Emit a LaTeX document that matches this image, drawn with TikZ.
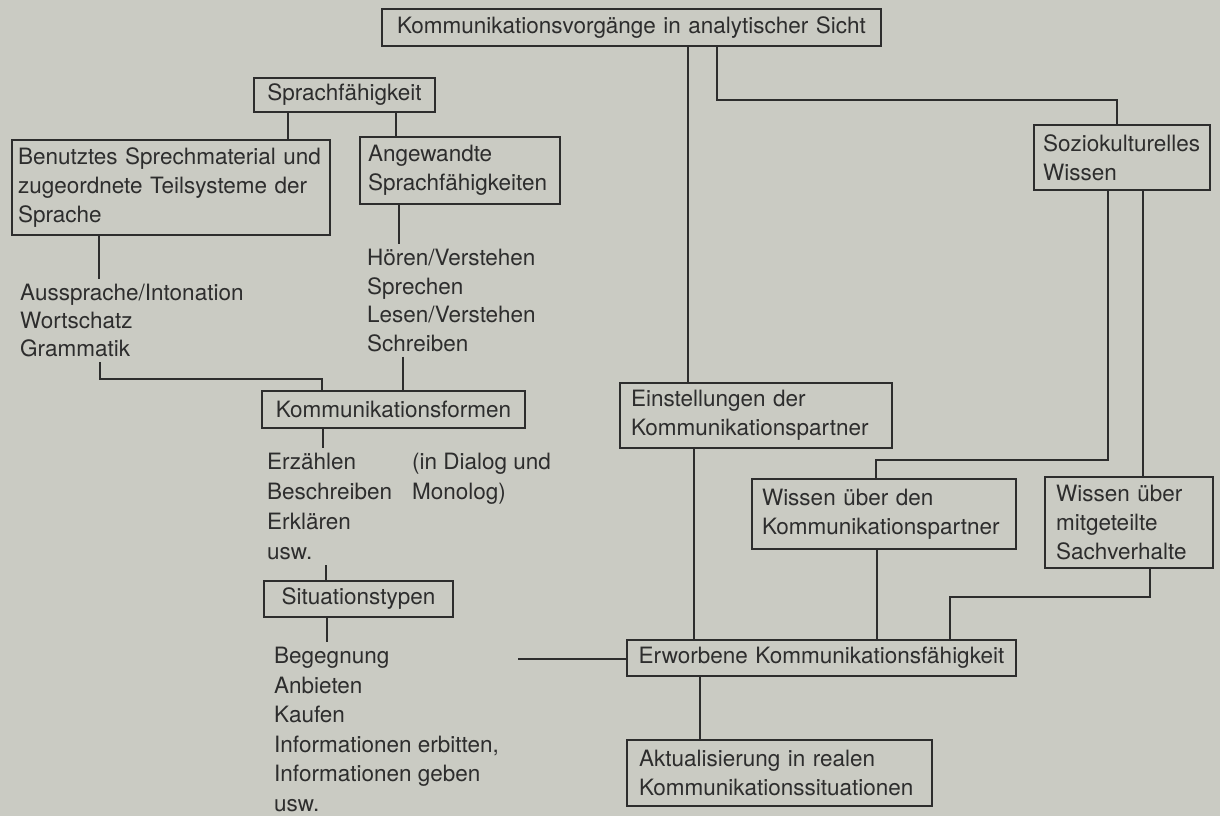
\documentclass[tikz,border=0pt]{standalone}
\usepackage{fontspec}
\setmainfont{TeX Gyre Heros}
\definecolor{paper}{RGB}{202,203,195}
\definecolor{ink}{RGB}{45,45,45}
\tikzset{
  lw/.style={line width=1.7pt},
  box/.style={draw=ink, lw, text=ink, inner ysep=0pt, outer sep=0pt, font=\fontsize{22.5}{29}\selectfont},
  lbl/.style={text=ink, inner xsep=0pt, inner ysep=5pt, align=left, anchor=north west},
  wire/.style={draw=ink, lw},
}
\begin{document}
\begin{tikzpicture}[x=1pt,y=-1pt]
\fill[paper] (0,0) rectangle (1220,816);
\useasboundingbox (0,0) rectangle (1220,816);

% boxes
\node[box, minimum width=499pt, minimum height=37pt, inner xsep=8pt, text width=483pt, align=center] (top) at (631.5,27.5) {Kommunikationsvorgänge in analytischer Sicht};
\node[box, minimum width=181pt, minimum height=34pt, inner xsep=8pt, text width=165pt, align=center] (spr) at (344.5,95) {Sprachfähigkeit};
\node[box, minimum width=318pt, minimum height=95pt, inner xsep=6pt, text width=306pt, align=left] (ben) at (171,187.5) {Benutztes Sprechmaterial und\\zugeordnete Teilsysteme der\\Sprache};
\node[box, minimum width=200pt, minimum height=67pt, inner xsep=8pt, text width=184pt, align=left] (ang) at (460,170.5) {Angewandte\\Sprachfähigkeiten};
\node[box, minimum width=263pt, minimum height=37pt, inner xsep=8pt, text width=247pt, align=center] (komf) at (393.5,409.5) {Kommunikationsformen};
\node[box, minimum width=189pt, minimum height=36pt, inner xsep=8pt, text width=173pt, align=center] (sit) at (358.5,599) {Situationstypen};
\node[box, minimum width=272pt, minimum height=65pt, inner xsep=11pt, text width=250pt, align=left] (einst) at (756,415.5) {Einstellungen der\\Kommunikationspartner};
\node[box, minimum width=176pt, minimum height=65pt, inner xsep=9pt, text width=158pt, align=left] (sozio) at (1122,157.5) {Soziokulturelles\\Wissen};
\node[box, minimum width=264pt, minimum height=70pt, inner xsep=10pt, text width=244pt, align=left] (wub) at (884,514) {Wissen über den\\Kommunikationspartner};
\node[box, minimum width=168pt, minimum height=91pt, inner xsep=11pt, text width=146pt, align=left] (wum) at (1129,522.5) {Wissen über\\mitgeteilte\\Sachverhalte};
\node[box, minimum width=389pt, minimum height=36pt, inner xsep=8pt, text width=373pt, align=center] (erw) at (821.5,658) {Erworbene Kommunikationsfähigkeit};
\node[box, minimum width=305pt, minimum height=66pt, inner xsep=12pt, text width=281pt, align=left] (akt) at (779.5,773) {Aktualisierung in realen\\Kommunikationssituationen};

% plain text lists
\node[lbl, font=\fontsize{22.5}{28}\selectfont] (aus) at (20,279) {Aussprache/Intonation\\Wortschatz\\Grammatik};
\node[lbl, font=\fontsize{22.5}{28.5}\selectfont] (hoer) at (367,244) {Hören/Verstehen\\Sprechen\\Lesen/Verstehen\\Schreiben};
\node[lbl, font=\fontsize{22.5}{30}\selectfont] (erz) at (267,448) {Erzählen\\Beschreiben\\Erklären\\usw.};
\node[lbl, font=\fontsize{22.5}{30}\selectfont] (dial) at (412,448) {(in Dialog und\\Monolog)};
\node[lbl, font=\fontsize{22.5}{29.5}\selectfont] (beg) at (274,642) {Begegnung\\Anbieten\\Kaufen\\Informationen erbitten,\\Informationen geben\\usw.};

% column and bend coordinates
\coordinate (v1) at (688,0);
\coordinate (v2) at (694,0);
\coordinate (v3) at (700,0);
\coordinate (b1) at (717,100);
\coordinate (b2) at (1117,100);
\coordinate (v4) at (288,0);
\coordinate (v5) at (396,0);
\coordinate (v6) at (99,0);
\coordinate (v7) at (399,0);
\coordinate (b3) at (100,379);
\coordinate (b4) at (322,379);
\coordinate (v8) at (403,0);
\coordinate (v9) at (323,0);
\coordinate (v10) at (326,0);
\coordinate (v11) at (327,0);
\coordinate (h1) at (518,659);
\coordinate (b5) at (1108,460);
\coordinate (b6) at (876,460);
\coordinate (v12) at (1143,0);
\coordinate (v13) at (877,0);
\coordinate (b7) at (1150,597);
\coordinate (b8) at (950,597);

% connectors
\draw[wire] (top.south -| v1) -- (einst.north -| v1);
\draw[wire] (einst.south -| v2) -- (erw.north -| v2);
\draw[wire] (erw.south -| v3) -- (akt.north -| v3);
\draw[wire] (top.south -| b1) -- (b1) -- (b2) -- (sozio.north -| b2);
\draw[wire] (spr.south -| v4) -- (ben.north -| v4);
\draw[wire] (spr.south -| v5) -- (ang.north -| v5);
\draw[wire] (ben.south -| v6) -- (aus.north -| v6);
\draw[wire] (ang.south -| v7) -- (hoer.north -| v7);
\draw[wire] (aus.south -| b3) -- (b3) -- (b4) -- (komf.north -| b4);
\draw[wire] (hoer.south -| v8) -- (komf.north -| v8);
\draw[wire] (komf.south -| v9) -- (erz.north -| v9);
\draw[wire] (erz.south -| v10) -- (sit.north -| v10);
\draw[wire] (sit.south -| v11) -- (beg.north -| v11);
\draw[wire] (h1) -- (h1 -| erw.west);
\draw[wire] (sozio.south -| b5) -- (b5) -- (b6) -- (wub.north -| b6);
\draw[wire] (sozio.south -| v12) -- (wum.north -| v12);
\draw[wire] (wub.south -| v13) -- (erw.north -| v13);
\draw[wire] (wum.south -| b7) -- (b7) -- (b8) -- (erw.north -| b8);
\end{tikzpicture}
\end{document}
